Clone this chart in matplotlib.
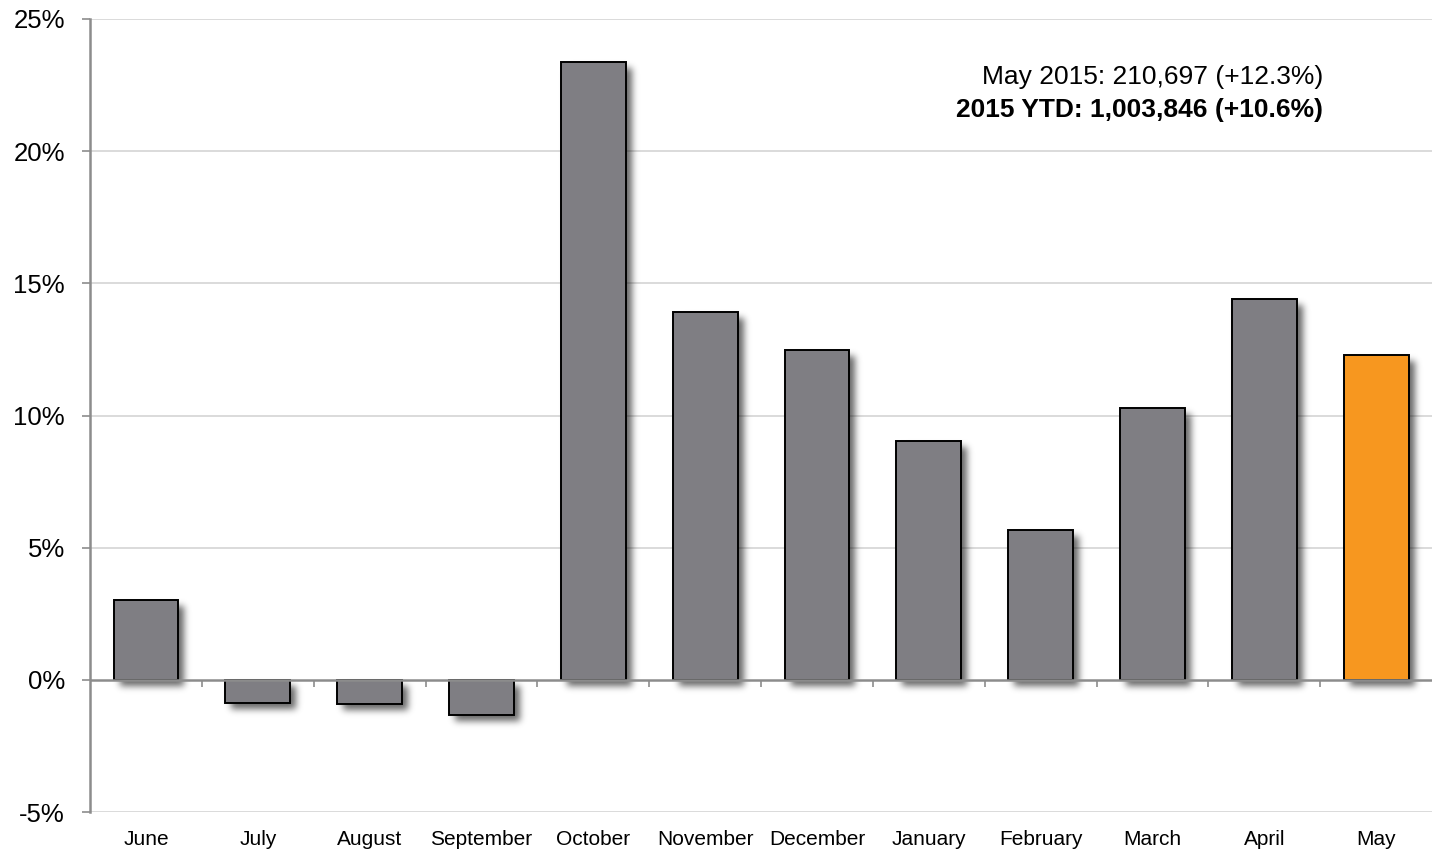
import numpy as np
import matplotlib
matplotlib.use("Agg")
import matplotlib.pyplot as plt
from matplotlib.patches import Rectangle
from matplotlib.transforms import offset_copy

plt.rcParams['font.family'] = ['Liberation Sans', 'DejaVu Sans']

months = ['June', 'July', 'August', 'September', 'October', 'November',
          'December', 'January', 'February', 'March', 'April', 'May']
growth = [3.02, -0.87, -0.9, -1.32, 23.36, 13.9, 12.47, 9.03, 5.67, 10.28, 14.4, 12.3]
yticks = [-5, 0, 5, 10, 15, 20, 25]
note_month = 'May 2015: 210,697 (+12.3%)'
note_ytd = '2015 YTD: 1,003,846 (+10.6%)'

GRAY = '#7f7e83'
ORANGE = '#f7971f'
AXIS_GRAY = '#8c8c8c'
GRID_GRAY = '#d4d4d4'


class BlurShadow:
    """agg filter: replace the drawn patch with a soft black blur of its alpha."""

    def __init__(self, sigma=3.5, alpha=0.6):
        self.sigma = sigma
        self.alpha = alpha

    def __call__(self, im, dpi):
        r = int(3 * self.sigma) + 1
        a = np.pad(im[:, :, 3], r, mode='constant')
        k = np.exp(-0.5 * (np.arange(-r, r + 1) / self.sigma) ** 2)
        k /= k.sum()
        a = np.apply_along_axis(lambda v: np.convolve(v, k, 'same'), 0, a)
        a = np.apply_along_axis(lambda v: np.convolve(v, k, 'same'), 1, a)
        out = np.zeros(a.shape + (4,))
        out[:, :, 3] = np.clip(a * self.alpha, 0, 1)
        return out, -r, -r


fig = plt.figure(figsize=(14.34, 8.51), dpi=100)
ax = fig.add_axes([0.0628, 0.0458, 0.9358, 0.9319])

x = np.arange(len(months))
colors = [GRAY] * (len(months) - 1) + [ORANGE]
bars = ax.bar(x, growth, width=0.58, color=colors, edgecolor='black',
              linewidth=1.4, zorder=2)

# soft drop shadow under each bar, shifted right and down
shadow_tr = offset_copy(ax.transData, fig=fig, x=6, y=-6, units='dots')
for b in bars:
    sh = Rectangle(b.get_xy(), b.get_width(), b.get_height(), transform=shadow_tr,
                   facecolor='black', edgecolor='none', zorder=1.5)
    sh.set_agg_filter(BlurShadow())
    ax.add_patch(sh)

ax.set_xlim(-0.5, len(months) - 0.5)
ax.set_ylim(-5, 25)

for y in yticks:
    if y != 0:
        ax.axhline(y, color=GRID_GRAY, linewidth=1.2, zorder=0.5)

# zero line with small tick marks between the months
ax.axhline(0, color=AXIS_GRAY, linewidth=1.8, zorder=3)
ax.plot(x[:-1] + 0.5, np.zeros(len(x) - 1), linestyle='none', marker=3,
        markersize=5, markeredgewidth=1.2, color=AXIS_GRAY, zorder=3)

for side in ['top', 'right', 'bottom']:
    ax.spines[side].set_visible(False)
ax.spines['left'].set_color(AXIS_GRAY)
ax.spines['left'].set_linewidth(1.8)

ax.set_yticks(yticks)
ax.set_yticklabels([f'{v}%' for v in yticks], fontsize=18.5)
ax.tick_params(axis='y', length=6, width=1.2, color=AXIS_GRAY, pad=12)
ax.set_xticks(x)
ax.set_xticklabels(months, fontsize=15)
ax.tick_params(axis='x', length=0, pad=13)

ax.text(0.919, 0.942, note_month, transform=ax.transAxes, ha='right', va='top',
        fontsize=19)
ax.text(0.919, 0.900, note_ytd, transform=ax.transAxes, ha='right', va='top',
        fontsize=19, fontweight='bold')

fig.savefig('out.png', dpi=100)
